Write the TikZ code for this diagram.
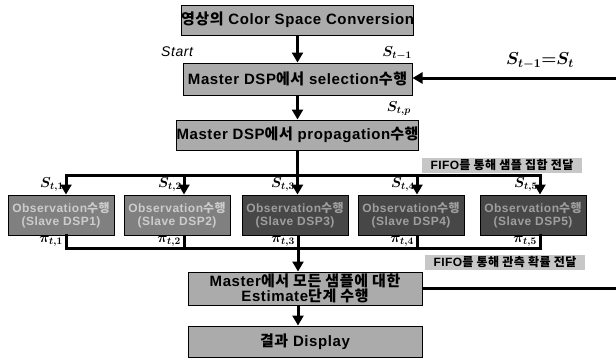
\documentclass[tikz,border=0pt]{standalone}
\usepackage{amsmath}
\usepackage{graphicx}
\usepackage{fontspec}
\setmainfont{Liberation Sans}[LetterSpace=4]
\newfontfamily\kr{Noto Sans CJK KR}[LetterSpace=4]
\usetikzlibrary{arrows.meta}
\newcommand{\K}[1]{{\kr #1}}
\begin{document}
\begin{tikzpicture}[x=1pt,y=-1pt,
  box/.style={draw=black, line width=1pt, fill=black!33, font=\bfseries\fontsize{15}{15.5}\selectfont, inner sep=0pt, align=center},
  mainbox/.style={box, minimum width=229pt, minimum height=30pt},
  lowbox/.style={box, minimum width=234pt},
  slave/.style={draw=black, line width=1pt, inner sep=0pt, align=center, minimum width=106pt, minimum height=40pt, font=\bfseries\fontsize{12}{13.5}\selectfont},
  slaveA/.style={slave, fill=black!50, text=white!80!black},
  slaveB/.style={slave, fill=black!72, text=white!62!black},
  fifo/.style={fill=black!22, inner sep=0pt, minimum width=160pt, minimum height=15pt, font=\bfseries\fontsize{12}{13}\selectfont},
  flow/.style={line width=3pt},
  arr/.style={flow, -{Triangle[width=11pt,length=10pt]}},
  lab/.style={inner sep=0pt, font=\boldmath\fontsize{14.4}{16}\selectfont}
]
\useasboundingbox (0,0) rectangle (616,360);

% main boxes
\node[mainbox] (b1) at (297.5,20) {\K{영상의} Color Space Conversion};
\node[mainbox, minimum height=32pt] (b2) at (297.5,79) {Master DSP\K{에서} selection\K{수행}};
\node[mainbox] (b3) at (297.5,135) {Master DSP\K{에서} propagation\K{수행}};

% slave boxes
\node[slaveA] (s1) at (61,215) {Observation\K{수행}\\(Slave DSP1)};
\node[slaveA] (s2) at (177,215) {Observation\K{수행}\\(Slave DSP2)};
\node[slaveB] (s3) at (295,215) {Observation\K{수행}\\(Slave DSP3)};
\node[slaveB] (s4) at (411,215) {Observation\K{수행}\\(Slave DSP4)};
\node[slaveB] (s5) at (533,215) {Observation\K{수행}\\(Slave DSP5)};

\node[lowbox, minimum height=33pt] (b6) at (305,288.5) {Master\K{에서 모든 샘플에 대한}\\Estimate\K{단계 수행}};
\node[lowbox, minimum height=31pt] (b7) at (305,341.5) {\K{결과} Display};

% FIFO labels
\node[fifo] (f1) at (502,165) {FIFO\K{를 통해 샘플 집합 전달}};
\node[fifo] (f2) at (505,262) {FIFO\K{를 통해 관측 확률 전달}};

% coordinates
\coordinate (d1) at (66,175);
\coordinate (d2) at (184,175);
\coordinate (d3) at (297.5,175);
\coordinate (d4) at (417,175);
\coordinate (d5) at (540,175);
\coordinate (c1) at (66,248);
\coordinate (c2) at (184,248);
\coordinate (c3) at (298,248);
\coordinate (c4) at (417,248);
\coordinate (c5) at (540,248);
\coordinate (r1) at (616,78);
\coordinate (r2) at (616,288.5);

% top flow
\draw[arr] (b1.south) -- (b2.north);
\draw[arr] (b2.south) -- (b3.north);
\draw[arr] (r1) -- (r1 -| b2.east);

% distribution
\draw[flow] (b3.south) -- (d3);
\draw[flow, line cap=rect] (d1) -- (d5);
\draw[arr] (d1) -- (d1 |- s1.north);
\draw[arr] (d2) -- (d2 |- s2.north);
\draw[arr] (d3) -- (d3 |- s3.north);
\draw[arr] (d4) -- (d4 |- s4.north);
\draw[arr] (d5) -- (d5 |- s5.north);

% collection
\draw[flow, line cap=rect] (s1.south -| c1) -- (c1) -- (c5) -- (s5.south -| c5);
\draw[flow] (s2.south -| c2) -- (c2);
\draw[flow] (s3.south -| c3) -- (c3);
\draw[flow] (s4.south -| c4) -- (c4);
\draw[arr] (c3) -- (b6.north -| c3);
\draw[arr] (b6.south -| c3) -- (b7.north -| c3);
\draw[flow] (b6.east) -- (r2);

% labels
\node[anchor=base west, inner sep=0pt, font=\itshape\fontsize{14}{16}\selectfont] (start) at (161,56) {Start};
\node[lab, anchor=south east] (lsm) at (412,60) {$S_{t-1}$};
\node[lab, anchor=south east] (lsp) at (411,116) {$S_{t,p}$};
\node[lab] (leq) at (540,61) {\scalebox{1.2}{$S_{t-1}{=}S_t$}};
\node[lab, anchor=south east] (ls1) at (64,192) {$S_{t,1}$};
\node[lab, anchor=south east] (ls2) at (182,192) {$S_{t,2}$};
\node[lab, anchor=south east] (ls3) at (295,192) {$S_{t,3}$};
\node[lab, anchor=south east] (ls4) at (415,192) {$S_{t,4}$};
\node[lab, anchor=south east] (ls5) at (538,192) {$S_{t,5}$};
\node[lab, anchor=north east] (lp1) at (63,236) {$\pi_{t,1}$};
\node[lab, anchor=north east] (lp2) at (181,236) {$\pi_{t,2}$};
\node[lab, anchor=north east] (lp3) at (295,236) {$\pi_{t,3}$};
\node[lab, anchor=north east] (lp4) at (414,236) {$\pi_{t,4}$};
\node[lab, anchor=north east] (lp5) at (537,236) {$\pi_{t,5}$};
\end{tikzpicture}
\end{document}
